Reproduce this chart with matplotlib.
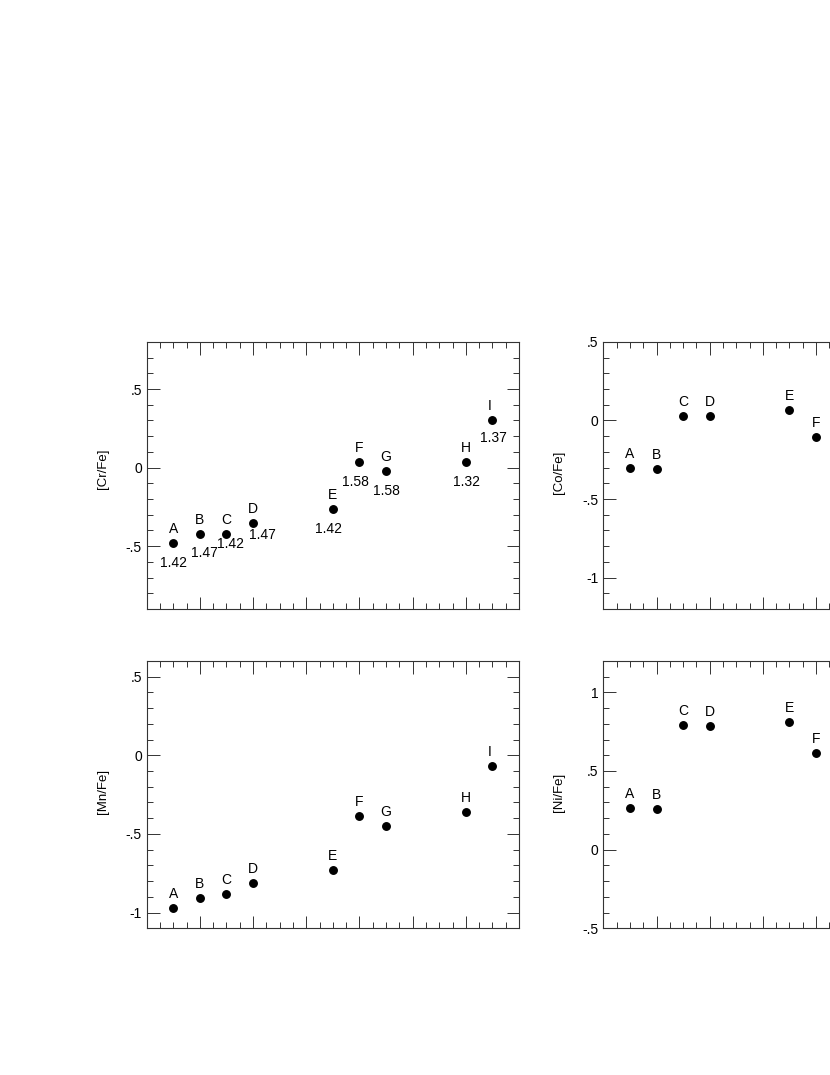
import matplotlib
matplotlib.use("Agg")
import matplotlib.pyplot as plt
from matplotlib.ticker import MultipleLocator, FuncFormatter

plt.rcParams['font.family'] = ['Liberation Sans', 'DejaVu Sans']

# star labels and their x positions (same for every panel)
LETTERS = ["A", "B", "C", "D", "E", "F", "G", "H", "I"]
X_POS = [2, 4, 6, 8, 14, 16, 18, 24, 26]

# abundance ratios
CR_FE = [-0.48, -0.42, -0.42, -0.355, -0.265, 0.035, -0.02, 0.033, 0.303]
CR_NUM = ["1.42", "1.47", "1.42", "1.47", "1.42", "1.58", "1.58", "1.32", "1.37"]
MN_FE = [-0.972, -0.907, -0.879, -0.814, -0.729, -0.388, -0.451, -0.358, -0.066]
CO_FE = [-0.302, -0.306, 0.026, 0.026, 0.068, -0.102]
NI_FE = [0.265, 0.258, 0.79, 0.784, 0.811, 0.614]

# label placement (pixels relative to the dot)
LETTER_DX = [0, 0, 0, 0, 0, 0, 0, 0, -3]
NUM_OFFSETS = [(0.7, -24), (4.7, -23), (4, -14), (9, -16), (-4.3, -24),
               (-4.3, -24), (0.7, -24), (0.7, -23.5), (0.7, -22)]

FS = 10
EDGE = '#333333'


def short_fmt(v, pos):
    if abs(v) < 1e-9:
        return "0"
    s = "%g" % v
    return s.replace("0.", ".")


def panel(rect, yvals, ylim, ylabel, numbers=None, label_y=0.51):
    ax = fig.add_axes(rect)
    xs = X_POS[:len(yvals)]
    ax.plot(xs, yvals, 'o', color='black', ms=5.4, ls='none')
    for i, (x, y) in enumerate(zip(xs, yvals)):
        ax.annotate(LETTERS[i], (x, y), xytext=(LETTER_DX[i], 10),
                    textcoords='offset pixels', ha='center', va='baseline',
                    fontsize=FS)
        if numbers:
            ax.annotate(numbers[i], (x, y), xytext=NUM_OFFSETS[i],
                        textcoords='offset pixels', ha='center',
                        va='baseline', fontsize=FS)
    ax.set_xlim(0, 28)
    ax.set_ylim(*ylim)
    ax.xaxis.set_major_locator(MultipleLocator(4))
    ax.xaxis.set_minor_locator(MultipleLocator(1))
    ax.yaxis.set_major_locator(MultipleLocator(0.5))
    ax.yaxis.set_minor_locator(MultipleLocator(0.1))
    ax.yaxis.set_major_formatter(FuncFormatter(short_fmt))
    ax.tick_params(which='both', direction='in', top=True, right=True,
                   labelbottom=False, color=EDGE, width=0.7,
                   labelsize=FS, pad=3.5)
    ax.tick_params(which='major', length=9)
    ax.tick_params(which='minor', length=4.5)
    for sp in ax.spines.values():
        sp.set_color(EDGE)
        sp.set_linewidth(0.8)
    ax.set_ylabel(ylabel, fontsize=9.5)
    ax.yaxis.set_label_coords(-0.102, label_y)
    return ax


fig = plt.figure(figsize=(8.3, 10.75), dpi=100)

panel([0.1767, 0.4335, 0.4486, 0.2484], CR_FE, (-0.9, 0.8), "[Cr/Fe]", CR_NUM,
      label_y=0.525)
panel([0.7269, 0.4335, 0.4486, 0.2484], CO_FE, (-1.2, 0.5), "[Co/Fe]")
panel([0.1767, 0.1365, 0.4486, 0.2487], MN_FE, (-1.1, 0.6), "[Mn/Fe]")
panel([0.7269, 0.1365, 0.4486, 0.2487], NI_FE, (-0.5, 1.2), "[Ni/Fe]")

plt.savefig("out.png", dpi=100)
